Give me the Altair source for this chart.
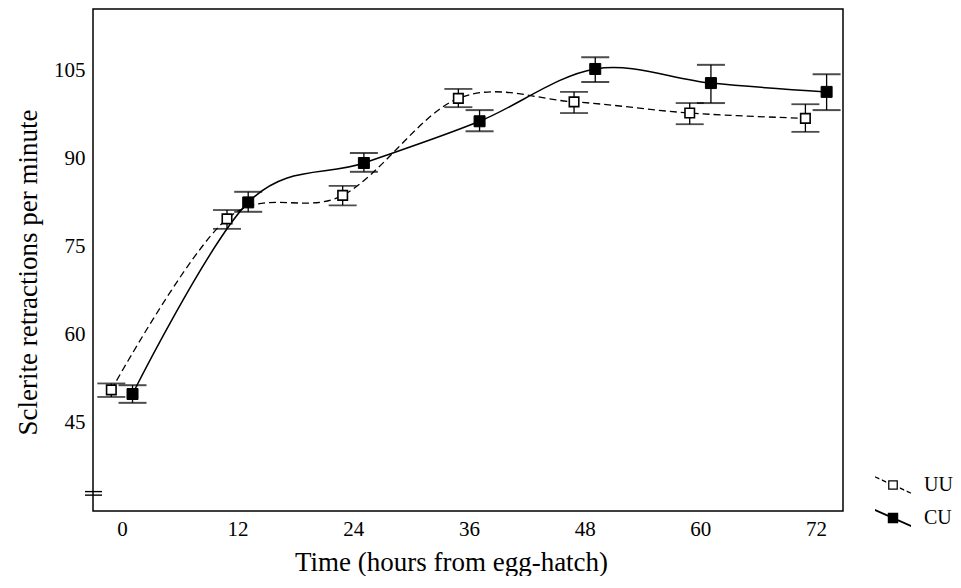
import altair as alt
import pandas as pd

hours = [0, 12, 24, 36, 48, 60, 72]
uu_mean = [50.6, 79.7, 83.7, 100.2, 99.6, 97.7, 96.8]
uu_low = [49.4, 78.0, 82.0, 98.7, 97.7, 95.8, 94.5]
uu_high = [51.7, 81.2, 85.3, 101.8, 101.3, 99.4, 99.2]
cu_mean = [49.9, 82.5, 89.2, 96.3, 105.2, 102.8, 101.3]
cu_low = [48.4, 80.9, 87.7, 94.6, 103.0, 99.4, 98.2]
cu_high = [51.4, 84.3, 90.9, 98.2, 107.2, 105.9, 104.3]
groups = ["UU", "CU"]
dodge = {"UU": -1.1, "CU": 1.1}
x_ticks = [0, 12, 24, 36, 48, 60, 72]
y_ticks = [45, 60, 75, 90, 105]
axis_break = [33.3, 32.7]

rows = []
for g, m, lo, hi in [("UU", uu_mean, uu_low, uu_high), ("CU", cu_mean, cu_low, cu_high)]:
    for h, a, b, c in zip(hours, m, lo, hi):
        rows.append({"series": g, "hour": h, "x": h + dodge[g], "mean": a, "low": b, "high": c})
df = pd.DataFrame(rows)

FONT = "Liberation Serif"
xs = alt.Scale(domain=[-3, 74.8], nice=False, zero=False)
ys = alt.Scale(domain=[30, 115.4], nice=False, zero=False)

x_axis = alt.Axis(values=x_ticks, title="Time (hours from egg-hatch)", grid=False, domain=False,
                  ticks=False, tickSize=0, labelPadding=7,
                  titleX=358, titleY=59, titleBaseline="alphabetic", titleAlign="center")
y_axis = alt.Axis(values=y_ticks, title="Sclerite retractions per minute", grid=False, domain=False,
                  ticks=False, tickSize=0, labelPadding=8,
                  titleX=-57, titleY=263, titleBaseline="alphabetic", titleAlign="center")


def X():
    return alt.X("x:Q", scale=xs, axis=x_axis)


def Y(field):
    return alt.Y(field, scale=ys, axis=y_axis)


base = alt.Chart(df)

uu_line = base.transform_filter(alt.datum.series == "UU").mark_line(
    interpolate="cardinal", color="black", strokeWidth=1.3, strokeDash=[7, 4]
).encode(x=X(), y=Y("mean:Q"))

cu_line = base.transform_filter(alt.datum.series == "CU").mark_line(
    interpolate="cardinal", color="black", strokeWidth=1.5
).encode(x=X(), y=Y("mean:Q"))

whiskers = base.mark_rule(color="black", strokeWidth=1.3).encode(
    x=X(), y=Y("low:Q"), y2="high:Q"
)

uu_caps = base.transform_filter(alt.datum.series == "UU").transform_fold(
    ["low", "high"], as_=["k", "v"]
).mark_tick(orient="horizontal", size=28, thickness=1.8, color="black", strokeDash=[4, 3]).encode(
    x=X(), y=Y("v:Q")
)

cu_caps = base.transform_filter(alt.datum.series == "CU").transform_fold(
    ["low", "high"], as_=["k", "v"]
).mark_tick(orient="horizontal", size=28, thickness=2, color="black").encode(
    x=X(), y=Y("v:Q")
)

uu_pts = base.transform_filter(alt.datum.series == "UU").mark_point(
    shape="square", size=90, fill="white", stroke="black", strokeWidth=1.6, opacity=1, filled=False
).encode(x=X(), y=Y("mean:Q"))

cu_pts = base.transform_filter(alt.datum.series == "CU").mark_point(
    shape="square", size=121, fill="black", stroke="black", strokeWidth=1, opacity=1, filled=True
).encode(x=X(), y=Y("mean:Q"))


# legend glyphs drawn as filled outlines: diagonal line (dashed for UU) with hollow / filled square
def seg(x1, x2, slope, t):
    y1, y2 = slope * x1, slope * x2
    return (f"M{x1:.3f},{y1 - t:.3f}L{x2:.3f},{y2 - t:.3f}"
            f"L{x2:.3f},{y2 + t:.3f}L{x1:.3f},{y1 + t:.3f}Z")


def square(s):
    return f"M{-s},{-s}L{s},{-s}L{s},{s}L{-s},{s}Z"


def hole(s):
    return f"M{-s},{-s}L{-s},{s}L{s},{s}L{s},{-s}Z"


SLOPE = 0.45
uu_path = "".join(seg(a, b, SLOPE, 0.04) for a, b in
                  [(-1, -0.76), (-0.62, -0.38), (0.38, 0.62), (0.76, 1)]) + square(0.27) + hole(0.2)
cu_path = seg(-1, 1, SLOPE, 0.055) + square(0.29)

legend = alt.Legend(title=None, orient="none", legendX=782, legendY=458, padding=0, rowPadding=5,
                    symbolSize=1296, symbolStrokeColor="black", symbolFillColor="black",
                    symbolStrokeWidth=0, symbolOpacity=1, labelFont=FONT, labelFontSize=20,
                    labelColor="black", labelOffset=13, labelLimit=200)

legend_layer = base.transform_filter(alt.datum.hour < -100).mark_point(
    filled=True, color="black", size=1296
).encode(
    x=X(), y=Y("mean:Q"),
    shape=alt.Shape("series:N", scale=alt.Scale(domain=groups, range=[uu_path, cu_path]), legend=legend),
)

brk = alt.Chart(pd.DataFrame({"v": axis_break})).mark_rule(color="black", strokeWidth=1.4).encode(
    y=Y("v:Q"), x=alt.value(-8), x2=alt.value(9)
)

chart = alt.layer(uu_line, cu_line, whiskers, uu_caps, cu_caps, uu_pts, cu_pts, legend_layer, brk).properties(
    width=750, height=502,
    autosize=alt.AutoSizeParams(type="none"),
    padding={"left": 85, "top": 1, "right": 110, "bottom": 65},
).configure_view(stroke="black", strokeWidth=1.5).configure_axis(
    labelFont=FONT, labelFontSize=21, labelColor="black",
    titleFont=FONT, titleFontSize=27, titleFontWeight="normal", titleColor="black"
)

chart.save("out.html", embed_options={"renderer": "svg", "actions": False})
